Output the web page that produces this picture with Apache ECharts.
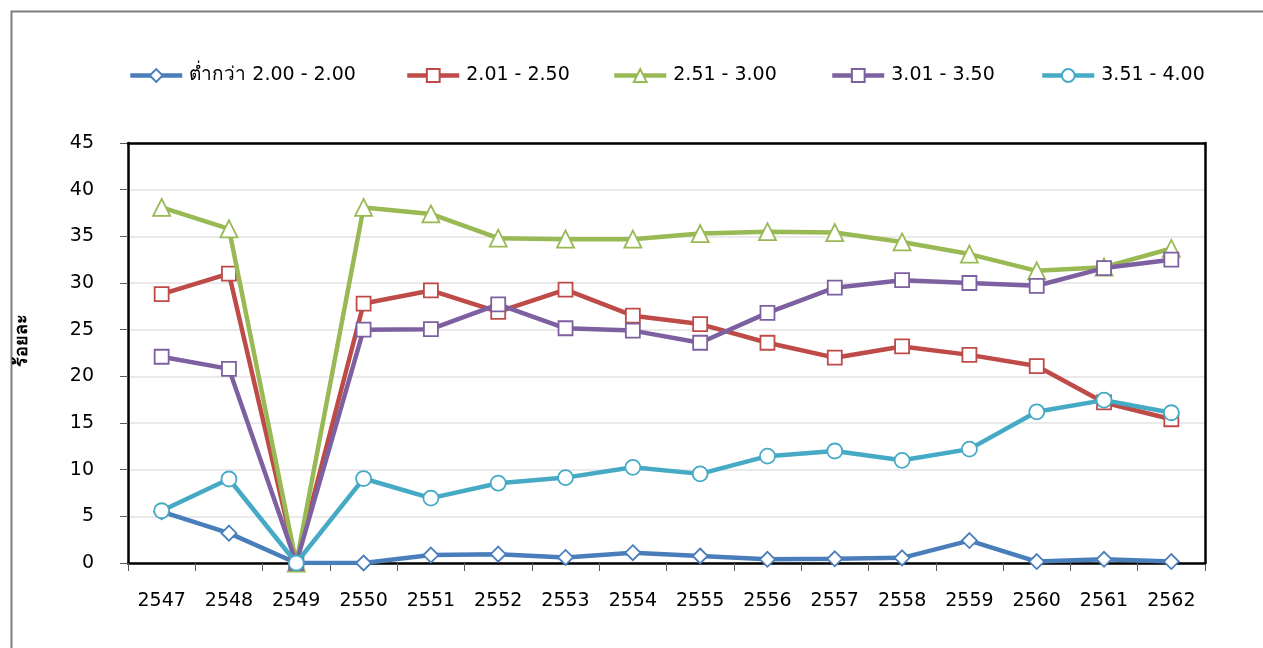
<!DOCTYPE html>
<html>
<head>
<meta charset="utf-8">
<script src="https://cdn.jsdelivr.net/npm/echarts@6/dist/echarts.min.js"></script>
<style>
html,body{margin:0;padding:0;background:#fff;}
#chart{width:1263px;height:648px;}
</style>
</head>
<body>
<div id="chart"></div>
<script>
const years = ['2547','2548','2549','2550','2551','2552','2553','2554','2555','2556','2557','2558','2559','2560','2561','2562'];
const seriesNames = ['ต่ำกว่า 2.00 - 2.00','2.01 - 2.50','2.51 - 3.00','3.01 - 3.50','3.51 - 4.00'];
const below200 = [5.5, 3.2, 0, 0, 0.85, 0.95, 0.6, 1.1, 0.75, 0.4, 0.45, 0.55, 2.4, 0.15, 0.4, 0.15];
const r201_250 = [28.8, 31.0, 0, 27.8, 29.2, 26.9, 29.3, 26.5, 25.6, 23.6, 22.0, 23.2, 22.3, 21.1, 17.2, 15.4];
const r251_300 = [38.1, 35.8, 0, 38.1, 37.4, 34.8, 34.7, 34.7, 35.3, 35.5, 35.4, 34.4, 33.1, 31.3, 31.7, 33.7];
const r301_350 = [22.1, 20.8, 0, 25.0, 25.05, 27.7, 25.15, 24.9, 23.6, 26.8, 29.5, 30.3, 30.0, 29.7, 31.6, 32.5];
const r351_400 = [5.6, 9.0, 0, 9.05, 6.95, 8.55, 9.15, 10.25, 9.55, 11.45, 12.0, 11.0, 12.2, 16.2, 17.45, 16.1];
const yTicks = [0, 5, 10, 15, 20, 25, 30, 35, 40, 45];
const yAxisTitle = 'ร้อยละ';

const colors = ['#4A7EBB', '#BE4B48', '#98B954', '#7D60A0', '#46AAC5'];
const symbols = ['diamond', 'rect', 'triangle', 'rect', 'circle'];
const sizes = [15, 14, 17, 14, 15];
const datas = [below200, r201_250, r251_300, r301_350, r351_400];
const legendLeft = [128, 405, 612, 830, 1040];
const FONT = '"DejaVu Sans", "Noto Sans", sans-serif';

const chart = echarts.init(document.getElementById('chart'));
const blackLine = { show: true, onZero: false, lineStyle: { color: '#000', width: 2.5 } };
chart.setOption({
  backgroundColor: '#fff',
  animation: false,
  graphic: [{
    type: 'rect', left: 9, top: 9, silent: true,
    shape: { width: 1400, height: 800 },
    style: { fill: 'none', stroke: '#7f7f7f', lineWidth: 2 }
  }, {
    type: 'text', x: 22, y: 340, rotation: Math.PI / 2, silent: true,
    style: { text: yAxisTitle, fontFamily: FONT, fontSize: 18, fontWeight: 'bold', fill: '#000',
             align: 'center', verticalAlign: 'middle' }
  }],
  legend: seriesNames.map((n, i) => ({
    left: legendLeft[i], top: 66, padding: 0,
    itemWidth: 52, itemHeight: 16, itemGap: 0,
    lineStyle: { width: 4.5 },
    textStyle: { fontFamily: FONT, fontSize: 19, color: '#000', padding: [0, 0, 0, 2] },
    data: [n]
  })),
  grid: {
    left: 128, right: 58, top: 143, bottom: 85, show: false
  },
  xAxis: [{
    type: 'category', data: years, boundaryGap: true,
    axisLine: blackLine,
    axisTick: { show: true, length: 8, lineStyle: { color: '#595959', width: 1 } },
    axisLabel: { fontFamily: FONT, fontSize: 19, color: '#000', margin: 29 },
    splitLine: { show: false }
  }, {
    type: 'category', data: years, position: 'top', z: 5,
    axisLine: blackLine, axisTick: { show: false }, axisLabel: { show: false }, splitLine: { show: false }
  }],
  yAxis: [{
    type: 'value', min: yTicks[0], max: yTicks[yTicks.length - 1], interval: 5,
    axisLine: blackLine,
    axisTick: { show: true, length: 8, lineStyle: { color: '#595959', width: 1 } },
    axisLabel: { fontFamily: FONT, fontSize: 19, color: '#000', margin: 34 },
    splitLine: { show: true, lineStyle: { color: '#e3e3e3', width: 1.5 } }
  }, {
    type: 'value', min: yTicks[0], max: yTicks[yTicks.length - 1], interval: 5, position: 'right', z: 5,
    axisLine: blackLine, axisTick: { show: false }, axisLabel: { show: false }, splitLine: { show: false }
  }],
  series: seriesNames.map((n, i) => ({
    name: n, type: 'line', data: datas[i],
    symbol: symbols[i], symbolSize: sizes[i],
    showAllSymbol: true,
    lineStyle: { color: colors[i], width: 4.5 },
    itemStyle: { color: '#fff', borderColor: colors[i], borderWidth: 1.8 },
    z: 2 + i
  }))
});
</script>
</body>
</html>
